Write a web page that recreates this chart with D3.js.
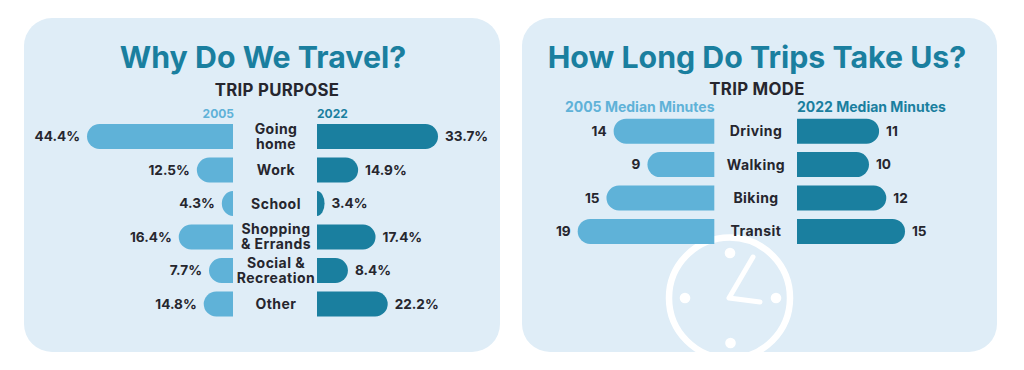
<!DOCTYPE html>
<html>
<head>
<meta charset="utf-8">
<script src="https://cdn.jsdelivr.net/npm/d3@7"></script>
<style>
  html, body { margin: 0; padding: 0; background: #fff; }
  text { font-family: Inter, "Open Sans", sans-serif; }
</style>
</head>
<body>
<div id="chart"></div>
<script>
// Trip purpose panel
const purposeCategories = ['Going\nhome', 'Work', 'School', 'Shopping\n& Errands', 'Social &\nRecreation', 'Other'];
const purposeLabels2005 = ['44.4%', '12.5%', '4.3%', '16.4%', '7.7%', '14.8%'];
const purposeLabels2022 = ['33.7%', '14.9%', '3.4%', '17.4%', '8.4%', '22.2%'];
// The source graphic's bars are not quite proportional to their printed
// labels, so bar lengths are read off the picture separately (same units).
const purposeBars2005 = [44.4, 11.0, 3.4, 16.5, 7.3, 8.9];
const purposeBars2022 = [36.8, 12.5, 2.3, 17.8, 9.4, 21.5];

// Trip mode panel
const modeCategories = ['Driving', 'Walking', 'Biking', 'Transit'];
const modeLabels2005 = [14, 9, 15, 19];
const modeLabels2022 = [11, 10, 12, 15];
const modeBars2005 = [14, 9.3, 15, 19];
const modeBars2022 = [11.4, 10, 12.4, 15];

const LIGHT = '#5fb2d8';
const DARK = '#1a7f9f';
const PANEL = '#dfedf7';
const INK = '#26262e';

const width = 1024;
const height = 370;
const barRadius = 12.5;

const svg = d3.select('#chart')
  .append('svg')
  .attr('width', width)
  .attr('height', height)
  .style('display', 'block');

// Flat on the inner end, rounded on the outer end. Bars shorter than the
// radius get a squashed curve, like School in the original.
function barPath(x0, x1, y, h) {
  const dir = x1 > x0 ? 1 : -1;
  const rx = Math.min(barRadius, Math.abs(x1 - x0));
  const sweep = dir > 0 ? 1 : 0;
  return `M${x0},${y}H${x1 - dir * rx}`
    + `A${rx},${h / 2} 0 0 ${sweep} ${x1},${y + h / 2}`
    + `A${rx},${h / 2} 0 0 ${sweep} ${x1 - dir * rx},${y + h}`
    + `H${x0}Z`;
}

function drawSide(g, categories, y, x, bars, labels, color, dir) {
  const row = g.append('g').selectAll('g')
    .data(categories.map((c, i) => ({ c, bar: bars[i], label: labels[i] })))
    .join('g');

  row.append('path')
    .attr('fill', color)
    .attr('d', (d) => barPath(x(0), x(d.bar), y(d.c), y.bandwidth()));

  row.append('text')
    .attr('x', (d) => x(d.bar) + dir * 7)
    .attr('y', (d) => y(d.c) + y.bandwidth() / 2)
    .attr('dy', '0.36em')
    .attr('text-anchor', dir > 0 ? 'start' : 'end')
    .attr('font-size', 13.6)
    .attr('font-weight', 700)
    .attr('fill', INK)
    .text((d) => d.label);
}

function drawCategoryLabels(g, categories, y, cx) {
  g.append('g').selectAll('text')
    .data(categories)
    .join('text')
    .attr('x', cx)
    .attr('y', (d) => y(d) + y.bandwidth() / 2)
    .attr('text-anchor', 'middle')
    .attr('font-size', 14)
    .attr('letter-spacing', 0.45)
    .attr('font-weight', 700)
    .attr('fill', INK)
    .each(function (d) {
      const lines = d.split('\n');
      d3.select(this).selectAll('tspan')
        .data(lines)
        .join('tspan')
        .attr('x', cx)
        .attr('dy', (l, i) => (i === 0 ? `${(lines.length === 1 ? 0.36 : -0.2)}em` : '14.8px'))
        .text((l) => l);
    });
}

function drawPanel(x, w, title, titleCx, sub, subCx, subY) {
  const g = svg.append('g');
  g.append('rect')
    .attr('x', x).attr('y', 18)
    .attr('width', w).attr('height', 334)
    .attr('rx', 28)
    .attr('fill', PANEL);
  g.append('text')
    .attr('x', titleCx).attr('y', 68)
    .attr('text-anchor', 'middle')
    .attr('font-size', 30.3)
    .attr('font-weight', 700)
    .attr('fill', DARK)
    .text(title);
  g.append('text')
    .attr('x', subCx).attr('y', subY)
    .attr('text-anchor', 'middle')
    .attr('font-size', 16.8)
    .attr('letter-spacing', 0.3)
    .attr('font-weight', 700)
    .attr('fill', INK)
    .text(sub);
  return g;
}

// ── Left panel ──
const left = drawPanel(24, 476, 'Why Do We Travel?', 263, 'TRIP PURPOSE', 277, 96);
const purposeY = d3.scaleBand()
  .domain(purposeCategories)
  .range([124, 316.5])
  .paddingInner(8.5 / 33.5);
const purposeX2005 = d3.scaleLinear().domain([0, 44.4]).range([233, 87]);
const purposeX2022 = d3.scaleLinear().domain([0, 44.4]).range([317, 463]);

drawSide(left, purposeCategories, purposeY, purposeX2005, purposeBars2005, purposeLabels2005, LIGHT, -1);
drawSide(left, purposeCategories, purposeY, purposeX2022, purposeBars2022, purposeLabels2022, DARK, 1);
drawCategoryLabels(left, purposeCategories, purposeY, 276);

left.append('text').attr('x', 234).attr('y', 117.5).attr('text-anchor', 'end')
  .attr('font-size', 12).attr('font-weight', 700).attr('fill', LIGHT).text('2005');
left.append('text').attr('x', 317).attr('y', 117.5)
  .attr('font-size', 12).attr('font-weight', 700).attr('fill', DARK).text('2022');

// ── Right panel ──
const right = drawPanel(522, 475, 'How Long Do Trips Take Us?', 757, 'TRIP MODE', 757, 95);

// Clock goes in before the bars: the Transit bar sits on top of its ring.
const clock = right.append('g')
  .attr('stroke', '#fff')
  .attr('fill', 'none')
  .attr('stroke-linecap', 'round');
clock.append('circle').attr('cx', 729.5).attr('cy', 298).attr('r', 60.5).attr('stroke-width', 6.5);
clock.append('path')
  .attr('d', 'M753,257L729,298L760,302')
  .attr('stroke-width', 5)
  .attr('stroke-linejoin', 'round');
clock.append('g').attr('stroke', 'none').attr('fill', '#fff')
  .selectAll('circle')
  .data([[730, 253], [685, 298], [776, 298], [730.5, 343]])
  .join('circle')
  .attr('cx', (d) => d[0])
  .attr('cy', (d) => d[1])
  .attr('r', 5.3);

const modeY = d3.scaleBand()
  .domain(modeCategories)
  .range([118.7, 243.9])
  .paddingInner(8.4 / 33.4);
const modeX2005 = d3.scaleLinear().domain([0, 19]).range([714.3, 577.7]);
const modeX2022 = d3.scaleLinear().domain([0, 15]).range([797, 905]);

drawSide(right, modeCategories, modeY, modeX2005, modeBars2005, modeLabels2005, LIGHT, -1);
drawSide(right, modeCategories, modeY, modeX2022, modeBars2022, modeLabels2022, DARK, 1);
drawCategoryLabels(right, modeCategories, modeY, 756);

right.append('text').attr('x', 714.5).attr('y', 112).attr('text-anchor', 'end')
  .attr('font-size', 14).attr('font-weight', 700).attr('fill', LIGHT).text('2005 Median Minutes');
right.append('text').attr('x', 797).attr('y', 112)
  .attr('font-size', 14).attr('font-weight', 700).attr('fill', DARK).text('2022 Median Minutes');
</script>
</body>
</html>
